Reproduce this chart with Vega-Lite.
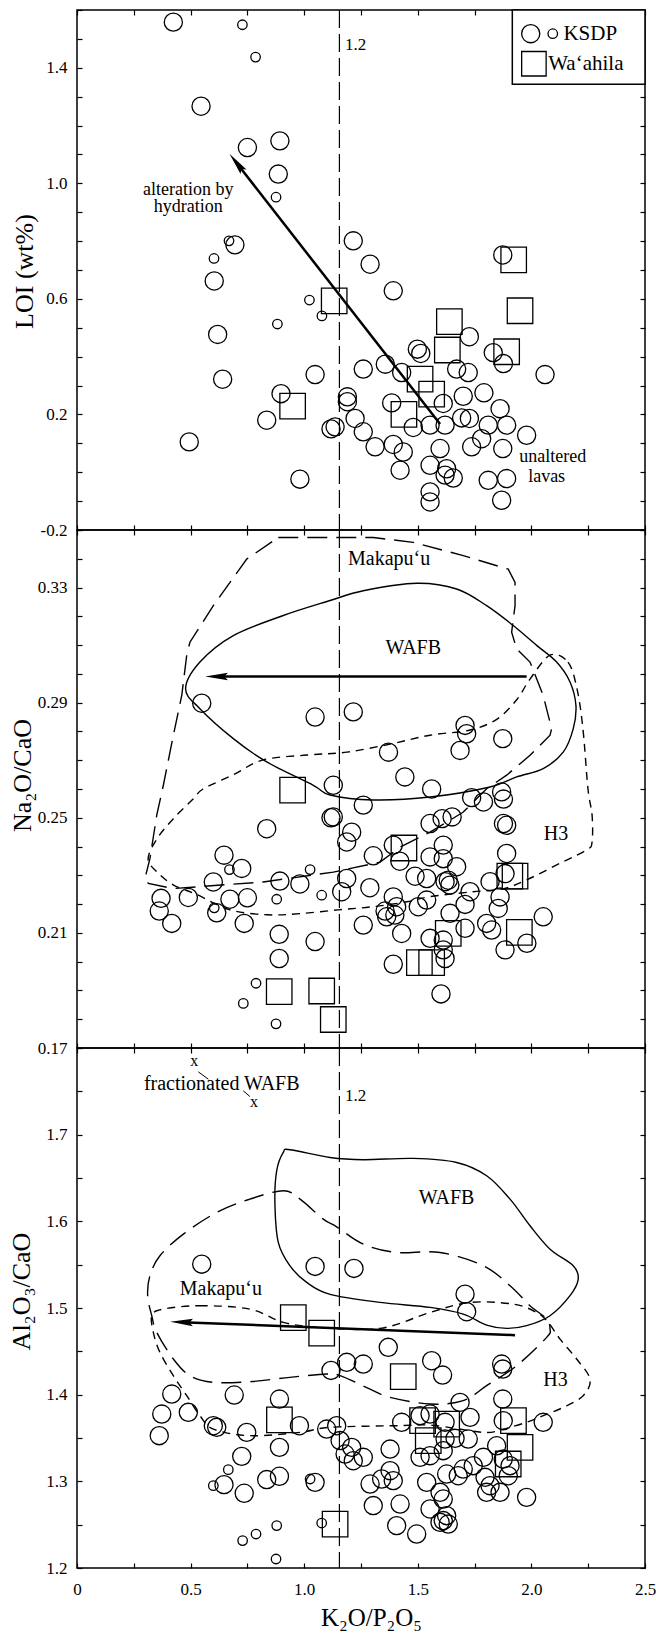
{
  "$schema": "https://vega.github.io/schema/vega-lite/v6.json",
  "padding": {"left": 7, "top": 0, "right": 5, "bottom": 5},
  "background": "white",
  "spacing": 0,
  "bounds": "flush",
  "config": {
    "view": {"stroke": "black", "strokeWidth": 1.5},
    "font": "Liberation Serif",
    "axis": {"labelFont": "Liberation Serif", "labelFontSize": 17, "labelColor": "black", "titleFont": "Liberation Serif", "titleFontSize": 26, "titleFontWeight": "normal", "titleColor": "black", "tickColor": "black", "tickWidth": 1.2, "tickSize": -5, "domain": false, "grid": false, "labelOverlap": false, "labelFlush": false},
    "text": {"font": "Liberation Serif", "color": "black", "baseline": "middle"}
  },
  "datasets": {
    "p1": [
      {"x":0.424,"y":1.558,"k":"b"},{"x":0.546,"y":1.267,"k":"b"},{"x":0.750,"y":1.124,"k":"b"},{"x":0.893,"y":1.147,"k":"b"},{"x":0.886,"y":1.032,"k":"b"},{"x":0.695,"y":0.787,"k":"b"},{"x":0.604,"y":0.662,"k":"b"},{"x":0.619,"y":0.477,"k":"b"},{"x":0.641,"y":0.322,"k":"b"},{"x":1.048,"y":0.338,"k":"b"},{"x":0.898,"y":0.272,"k":"b"},{"x":0.835,"y":0.180,"k":"b"},{"x":0.494,"y":0.105,"k":"b"},{"x":0.981,"y":-0.024,"k":"b"},{"x":1.118,"y":0.150,"k":"b"},{"x":1.290,"y":0.720,"k":"b"},{"x":1.874,"y":0.752,"k":"b"},{"x":1.216,"y":0.801,"k":"b"},{"x":1.392,"y":0.628,"k":"b"},{"x":1.727,"y":0.469,"k":"b"},{"x":1.498,"y":0.426,"k":"b"},{"x":1.513,"y":0.411,"k":"b"},{"x":1.832,"y":0.414,"k":"b"},{"x":1.877,"y":0.376,"k":"b"},{"x":1.357,"y":0.374,"k":"b"},{"x":1.260,"y":0.357,"k":"b"},{"x":1.429,"y":0.345,"k":"b"},{"x":1.671,"y":0.357,"k":"b"},{"x":1.722,"y":0.345,"k":"b"},{"x":2.060,"y":0.338,"k":"b"},{"x":1.190,"y":0.261,"k":"b"},{"x":1.190,"y":0.244,"k":"b"},{"x":1.385,"y":0.240,"k":"b"},{"x":1.700,"y":0.263,"k":"b"},{"x":1.791,"y":0.275,"k":"b"},{"x":1.612,"y":0.238,"k":"b"},{"x":1.862,"y":0.220,"k":"b"},{"x":1.224,"y":0.186,"k":"b"},{"x":1.136,"y":0.157,"k":"b"},{"x":1.260,"y":0.140,"k":"b"},{"x":1.480,"y":0.155,"k":"b"},{"x":1.554,"y":0.163,"k":"b"},{"x":1.620,"y":0.163,"k":"b"},{"x":1.693,"y":0.188,"k":"b"},{"x":1.727,"y":0.186,"k":"b"},{"x":1.810,"y":0.163,"k":"b"},{"x":1.891,"y":0.163,"k":"b"},{"x":1.979,"y":0.128,"k":"b"},{"x":1.312,"y":0.088,"k":"b"},{"x":1.392,"y":0.096,"k":"b"},{"x":1.436,"y":0.070,"k":"b"},{"x":1.598,"y":0.082,"k":"b"},{"x":1.737,"y":0.088,"k":"b"},{"x":1.781,"y":0.116,"k":"b"},{"x":1.874,"y":0.082,"k":"b"},{"x":1.422,"y":0.007,"k":"b"},{"x":1.554,"y":0.024,"k":"b"},{"x":1.627,"y":0.012,"k":"b"},{"x":1.656,"y":-0.020,"k":"b"},{"x":1.620,"y":-0.010,"k":"b"},{"x":1.810,"y":-0.028,"k":"b"},{"x":1.891,"y":-0.022,"k":"b"},{"x":1.554,"y":-0.068,"k":"b"},{"x":1.554,"y":-0.103,"k":"b"},{"x":1.869,"y":-0.097,"k":"b"},
      {"x":0.728,"y":1.549,"k":"s"},{"x":0.786,"y":1.437,"k":"s"},{"x":0.876,"y":0.952,"k":"s"},{"x":0.669,"y":0.801,"k":"s"},{"x":0.603,"y":0.740,"k":"s"},{"x":1.023,"y":0.596,"k":"s"},{"x":1.078,"y":0.541,"k":"s"},{"x":0.882,"y":0.513,"k":"s"},
      {"x":1.132,"y":0.593,"k":"q"},{"x":0.949,"y":0.229,"k":"q"},{"x":1.922,"y":0.735,"k":"q"},{"x":1.950,"y":0.559,"k":"q"},{"x":1.639,"y":0.521,"k":"q"},{"x":1.630,"y":0.423,"k":"q"},{"x":1.891,"y":0.417,"k":"q"},{"x":1.510,"y":0.322,"k":"q"},{"x":1.561,"y":0.270,"k":"q"},{"x":1.439,"y":0.200,"k":"q"}
    ],
    "leg": [{"x":1.997,"y":1.518,"k":"b"},{"x":2.094,"y":1.518,"k":"s"},{"x":2.011,"y":1.414,"k":"q"}],
    "legbox": [{"x":1.916,"x2":2.5,"y":1.343,"y2":1.6}],
    "vline": [{"x":1.155}],
    "a1": [{"x":1.598,"y":0.167},{"x":0.702,"y":1.071}],
    "h1": [{"x":0.702,"y":1.071}],
    "t1c": [{"t":"alteration by","x":0.49,"y":0.977},{"t":"hydration","x":0.49,"y":0.918},{"t":"unaltered","x":2.094,"y":0.052},{"t":"lavas","x":2.067,"y":-0.016}],
    "t1l": [{"t":"1.2","x":1.18,"y":1.478}],
    "t1g": [{"t":"KSDP","x":2.141,"y":1.518},{"t":"Wa‘ahila","x":2.074,"y":1.414}],
    "p2": [
      {"x":0.549,"y":0.2898,"k":"b"},{"x":1.048,"y":0.285,"k":"b"},{"x":0.835,"y":0.2462,"k":"b"},{"x":1.118,"y":0.250,"k":"b"},{"x":0.647,"y":0.237,"k":"b"},{"x":0.725,"y":0.2324,"k":"b"},{"x":0.600,"y":0.2277,"k":"b"},{"x":0.893,"y":0.228,"k":"b"},{"x":0.981,"y":0.227,"k":"b"},{"x":0.370,"y":0.222,"k":"b"},{"x":0.490,"y":0.2223,"k":"b"},{"x":0.673,"y":0.2217,"k":"b"},{"x":0.750,"y":0.2222,"k":"b"},{"x":0.615,"y":0.217,"k":"b"},{"x":0.362,"y":0.2176,"k":"b"},{"x":0.417,"y":0.2133,"k":"b"},{"x":0.736,"y":0.2133,"k":"b"},{"x":0.890,"y":0.2095,"k":"b"},{"x":1.048,"y":0.207,"k":"b"},{"x":0.890,"y":0.2011,"k":"b"},
      {"x":1.216,"y":0.2868,"k":"b"},{"x":1.708,"y":0.2821,"k":"b"},{"x":1.715,"y":0.2792,"k":"b"},{"x":1.686,"y":0.2734,"k":"b"},{"x":1.874,"y":0.2775,"k":"b"},{"x":1.371,"y":0.2728,"k":"b"},{"x":1.443,"y":0.2642,"k":"b"},{"x":1.561,"y":0.2600,"k":"b"},{"x":1.869,"y":0.2590,"k":"b"},{"x":1.877,"y":0.2565,"k":"b"},{"x":1.128,"y":0.2613,"k":"b"},{"x":1.260,"y":0.2544,"k":"b"},{"x":1.737,"y":0.257,"k":"b"},{"x":1.789,"y":0.2555,"k":"b"},{"x":1.128,"y":0.2503,"k":"b"},{"x":1.209,"y":0.245,"k":"b"},{"x":1.187,"y":0.2416,"k":"b"},{"x":1.554,"y":0.248,"k":"b"},{"x":1.607,"y":0.2497,"k":"b"},{"x":1.651,"y":0.2503,"k":"b"},{"x":1.877,"y":0.248,"k":"b"},{"x":1.891,"y":0.2474,"k":"b"},{"x":1.392,"y":0.2405,"k":"b"},{"x":1.612,"y":0.2405,"k":"b"},{"x":1.304,"y":0.2368,"k":"b"},{"x":1.421,"y":0.2349,"k":"b"},{"x":1.554,"y":0.2364,"k":"b"},{"x":1.612,"y":0.2358,"k":"b"},{"x":1.891,"y":0.2376,"k":"b"},{"x":1.671,"y":0.233,"k":"b"},{"x":1.488,"y":0.2297,"k":"b"},{"x":1.539,"y":0.2289,"k":"b"},{"x":1.620,"y":0.2278,"k":"b"},{"x":1.634,"y":0.2283,"k":"b"},{"x":1.641,"y":0.2266,"k":"b"},{"x":1.187,"y":0.2289,"k":"b"},{"x":1.818,"y":0.2278,"k":"b"},{"x":1.884,"y":0.2306,"k":"b"},{"x":1.165,"y":0.2243,"k":"b"},{"x":1.289,"y":0.2257,"k":"b"},{"x":1.392,"y":0.2225,"k":"b"},{"x":1.539,"y":0.2214,"k":"b"},{"x":1.502,"y":0.2191,"k":"b"},{"x":1.708,"y":0.2199,"k":"b"},{"x":1.730,"y":0.2243,"k":"b"},{"x":1.862,"y":0.2225,"k":"b"},{"x":1.854,"y":0.2185,"k":"b"},{"x":1.356,"y":0.2176,"k":"b"},{"x":1.407,"y":0.2191,"k":"b"},{"x":1.399,"y":0.2162,"k":"b"},{"x":1.363,"y":0.2156,"k":"b"},{"x":1.260,"y":0.2127,"k":"b"},{"x":1.642,"y":0.2168,"k":"b"},{"x":1.708,"y":0.2116,"k":"b"},{"x":1.803,"y":0.2133,"k":"b"},{"x":1.825,"y":0.211,"k":"b"},{"x":2.052,"y":0.2156,"k":"b"},{"x":1.429,"y":0.2098,"k":"b"},{"x":1.554,"y":0.2081,"k":"b"},{"x":1.612,"y":0.2075,"k":"b"},{"x":1.612,"y":0.2041,"k":"b"},{"x":1.980,"y":0.2064,"k":"b"},{"x":1.884,"y":0.2041,"k":"b"},{"x":1.392,"y":0.1991,"k":"b"},{"x":1.620,"y":0.2011,"k":"b"},{"x":1.602,"y":0.1888,"k":"b"},
      {"x":0.671,"y":0.232,"k":"s"},{"x":1.026,"y":0.232,"k":"s"},{"x":0.879,"y":0.2217,"k":"s"},{"x":1.077,"y":0.2231,"k":"s"},{"x":0.604,"y":0.2187,"k":"s"},{"x":0.788,"y":0.1925,"k":"s"},{"x":0.732,"y":0.1855,"k":"s"},{"x":0.876,"y":0.1784,"k":"s"},
      {"x":0.949,"y":0.2596,"k":"q"},{"x":0.890,"y":0.1896,"k":"q"},{"x":1.077,"y":0.1898,"k":"q"},{"x":1.128,"y":0.1799,"k":"q"},{"x":1.439,"y":0.2395,"k":"q"},{"x":1.905,"y":0.2297,"k":"q"},{"x":1.928,"y":0.2297,"k":"q"},{"x":1.634,"y":0.2098,"k":"q"},{"x":1.947,"y":0.2102,"k":"q"},{"x":1.507,"y":0.1997,"k":"q"},{"x":1.561,"y":0.1997,"k":"q"}
    ],
    "c2s": [
      {"o":1,"x":0.478,"y":0.2948},{"o":2,"x":0.541,"y":0.3041},{"o":3,"x":0.688,"y":0.3133},{"o":4,"x":0.908,"y":0.3203},{"o":5,"x":1.114,"y":0.3255},{"o":6,"x":1.260,"y":0.3289},{"o":7,"x":1.495,"y":0.3315},{"o":8,"x":1.671,"y":0.3295},{"o":9,"x":1.803,"y":0.3237},{"o":10,"x":1.920,"y":0.3168},{"o":11,"x":2.023,"y":0.3099},{"o":12,"x":2.111,"y":0.3041},{"o":13,"x":2.170,"y":0.2972},{"o":14,"x":2.196,"y":0.2890},{"o":15,"x":2.184,"y":0.2809},{"o":16,"x":2.140,"y":0.2728},{"o":17,"x":2.052,"y":0.2671},{"o":18,"x":1.935,"y":0.2642},{"o":19,"x":1.818,"y":0.2607},{"o":20,"x":1.554,"y":0.2572},{"o":21,"x":1.303,"y":0.2562},{"o":22,"x":1.114,"y":0.2579},{"o":23,"x":1.040,"y":0.2613},{"o":24,"x":0.835,"y":0.2694},{"o":25,"x":0.688,"y":0.2775},{"o":26,"x":0.541,"y":0.2879}
    ],
    "c2l": [
      {"o":1,"x":0.886,"y":0.3474},{"o":2,"x":1.114,"y":0.3474},{"o":3,"x":1.304,"y":0.3474},{"o":4,"x":1.480,"y":0.3457},{"o":5,"x":1.700,"y":0.3411},{"o":6,"x":1.898,"y":0.3364},{"o":7,"x":1.928,"y":0.3318},{"o":8,"x":1.928,"y":0.3237},{"o":9,"x":1.913,"y":0.3145},{"o":10,"x":1.935,"y":0.3087},{"o":11,"x":1.994,"y":0.3041},{"o":12,"x":2.052,"y":0.2925},{"o":13,"x":2.089,"y":0.2809},{"o":14,"x":2.082,"y":0.2787},{"o":15,"x":1.994,"y":0.2717},{"o":16,"x":1.891,"y":0.2648},{"o":17,"x":1.803,"y":0.2601},{"o":18,"x":1.699,"y":0.2519},{"o":19,"x":1.554,"y":0.2450},{"o":20,"x":1.422,"y":0.2398},{"o":21,"x":1.334,"y":0.2346},{"o":22,"x":1.128,"y":0.2311},{"o":23,"x":0.820,"y":0.2277},{"o":24,"x":0.424,"y":0.2254},{"o":25,"x":0.314,"y":0.2272},{"o":26,"x":0.299,"y":0.2289},{"o":27,"x":0.321,"y":0.2358},{"o":28,"x":0.351,"y":0.2509},{"o":29,"x":0.380,"y":0.2613},{"o":30,"x":0.424,"y":0.2786},{"o":31,"x":0.461,"y":0.2925},{"o":32,"x":0.483,"y":0.3065},{"o":33,"x":0.497,"y":0.3110},{"o":34,"x":0.600,"y":0.3237},{"o":35,"x":0.747,"y":0.3399},{"o":36,"x":0.886,"y":0.3474}
    ],
    "c2d": [
      {"o":1,"x":2.082,"y":0.3065},{"o":2,"x":2.161,"y":0.3041},{"o":3,"x":2.201,"y":0.2947},{"o":4,"x":2.227,"y":0.2808},{"o":5,"x":2.249,"y":0.2600},{"o":6,"x":2.267,"y":0.2510},{"o":7,"x":2.267,"y":0.2416},{"o":8,"x":2.245,"y":0.2389},{"o":9,"x":2.139,"y":0.2347},{"o":10,"x":1.981,"y":0.2285},{"o":11,"x":1.875,"y":0.2253},{"o":12,"x":1.743,"y":0.2243},{"o":13,"x":1.554,"y":0.2226},{"o":14,"x":1.452,"y":0.2208},{"o":15,"x":1.303,"y":0.2191},{"o":16,"x":1.149,"y":0.2180},{"o":17,"x":0.981,"y":0.2167},{"o":18,"x":0.836,"y":0.2163},{"o":19,"x":0.673,"y":0.2180},{"o":20,"x":0.528,"y":0.2233},{"o":21,"x":0.423,"y":0.2267},{"o":22,"x":0.352,"y":0.2312},{"o":23,"x":0.313,"y":0.2357},{"o":24,"x":0.352,"y":0.2427},{"o":25,"x":0.423,"y":0.2496},{"o":26,"x":0.511,"y":0.2565},{"o":27,"x":0.555,"y":0.2600},{"o":28,"x":0.687,"y":0.2649},{"o":29,"x":0.819,"y":0.2701},{"o":30,"x":1.012,"y":0.2718},{"o":31,"x":1.188,"y":0.2728},{"o":32,"x":1.378,"y":0.2756},{"o":33,"x":1.554,"y":0.2787},{"o":34,"x":1.730,"y":0.2805},{"o":35,"x":1.849,"y":0.2843},{"o":36,"x":1.937,"y":0.2912},{"o":37,"x":1.994,"y":0.2982}
    ],
    "a2": [{"x":1.979,"y":0.2991},{"x":0.614,"y":0.2991}],
    "h2": [{"x":0.614,"y":0.2991}],
    "t2c": [{"t":"WAFB","x":1.480,"y":0.309},{"t":"H3","x":2.108,"y":0.2445}],
    "t2l": [{"t":"Makapu‘u","x":1.193,"y":0.3398}],
    "p3": [
      {"x":0.549,"y":1.5506,"k":"b"},{"x":1.048,"y":1.548,"k":"b"},{"x":1.219,"y":1.5457,"k":"b"},{"x":1.708,"y":1.516,"k":"b"},{"x":1.715,"y":1.4957,"k":"b"},{"x":0.417,"y":1.4007,"k":"b"},{"x":0.373,"y":1.3776,"k":"b"},{"x":0.362,"y":1.3527,"k":"b"},{"x":0.490,"y":1.3796,"k":"b"},{"x":0.600,"y":1.3642,"k":"b"},{"x":0.615,"y":1.3623,"k":"b"},{"x":0.747,"y":1.3565,"k":"b"},{"x":0.692,"y":1.3996,"k":"b"},{"x":0.891,"y":1.3949,"k":"b"},{"x":0.979,"y":1.3642,"k":"b"},{"x":1.099,"y":1.3603,"k":"b"},{"x":0.891,"y":1.3392,"k":"b"},{"x":0.725,"y":1.3288,"k":"b"},{"x":0.647,"y":1.2962,"k":"b"},{"x":0.736,"y":1.2862,"k":"b"},{"x":0.835,"y":1.302,"k":"b"},{"x":0.891,"y":1.3058,"k":"b"},{"x":1.048,"y":1.2988,"k":"b"},{"x":1.118,"y":1.428,"k":"b"},
      {"x":1.370,"y":1.4546,"k":"b"},{"x":1.187,"y":1.4373,"k":"b"},{"x":1.260,"y":1.4353,"k":"b"},{"x":1.561,"y":1.4392,"k":"b"},{"x":1.609,"y":1.4226,"k":"b"},{"x":1.869,"y":1.4353,"k":"b"},{"x":1.874,"y":1.4295,"k":"b"},{"x":1.686,"y":1.3911,"k":"b"},{"x":1.874,"y":1.3949,"k":"b"},{"x":1.429,"y":1.3681,"k":"b"},{"x":1.510,"y":1.3758,"k":"b"},{"x":1.554,"y":1.3777,"k":"b"},{"x":1.620,"y":1.3681,"k":"b"},{"x":1.876,"y":1.37,"k":"b"},{"x":2.052,"y":1.3681,"k":"b"},{"x":1.730,"y":1.3738,"k":"b"},{"x":1.158,"y":1.347,"k":"b"},{"x":1.209,"y":1.3392,"k":"b"},{"x":1.143,"y":1.3642,"k":"b"},{"x":1.180,"y":1.3315,"k":"b"},{"x":1.216,"y":1.3238,"k":"b"},{"x":1.260,"y":1.3277,"k":"b"},{"x":1.378,"y":1.3372,"k":"b"},{"x":1.620,"y":1.3488,"k":"b"},{"x":1.664,"y":1.3496,"k":"b"},{"x":1.722,"y":1.3488,"k":"b"},{"x":1.510,"y":1.3277,"k":"b"},{"x":1.554,"y":1.3296,"k":"b"},{"x":1.612,"y":1.3354,"k":"b"},{"x":1.789,"y":1.3277,"k":"b"},{"x":1.847,"y":1.341,"k":"b"},{"x":1.876,"y":1.3257,"k":"b"},{"x":1.906,"y":1.3181,"k":"b"},{"x":1.378,"y":1.3123,"k":"b"},{"x":1.341,"y":1.3027,"k":"b"},{"x":1.392,"y":1.3008,"k":"b"},{"x":1.290,"y":1.2969,"k":"b"},{"x":1.539,"y":1.2988,"k":"b"},{"x":1.627,"y":1.3084,"k":"b"},{"x":1.678,"y":1.3065,"k":"b"},{"x":1.700,"y":1.3142,"k":"b"},{"x":1.744,"y":1.3181,"k":"b"},{"x":1.796,"y":1.3046,"k":"b"},{"x":1.818,"y":1.295,"k":"b"},{"x":1.862,"y":1.2873,"k":"b"},{"x":1.803,"y":1.2873,"k":"b"},{"x":1.898,"y":1.3065,"k":"b"},{"x":1.979,"y":1.2815,"k":"b"},{"x":1.422,"y":1.2738,"k":"b"},{"x":1.304,"y":1.272,"k":"b"},{"x":1.598,"y":1.2873,"k":"b"},{"x":1.612,"y":1.2796,"k":"b"},{"x":1.554,"y":1.2681,"k":"b"},{"x":1.627,"y":1.2604,"k":"b"},{"x":1.612,"y":1.2547,"k":"b"},{"x":1.634,"y":1.2507,"k":"b"},{"x":1.407,"y":1.2489,"k":"b"},{"x":1.495,"y":1.2392,"k":"b"},{"x":1.598,"y":1.2527,"k":"b"},
      {"x":0.666,"y":1.3135,"k":"s"},{"x":0.600,"y":1.295,"k":"s"},{"x":1.026,"y":1.3027,"k":"s"},{"x":0.879,"y":1.2489,"k":"s"},{"x":0.788,"y":1.2392,"k":"s"},{"x":0.729,"y":1.2316,"k":"s"},{"x":0.876,"y":1.2104,"k":"s"},{"x":1.077,"y":1.2519,"k":"s"},
      {"x":0.952,"y":1.489,"k":"q"},{"x":1.077,"y":1.471,"k":"q"},{"x":0.891,"y":1.371,"k":"q"},{"x":1.136,"y":1.2507,"k":"q"},{"x":1.436,"y":1.4208,"k":"q"},{"x":1.521,"y":1.37,"k":"q"},{"x":1.627,"y":1.3661,"k":"q"},{"x":1.921,"y":1.37,"k":"q"},{"x":1.950,"y":1.3392,"k":"q"},{"x":1.546,"y":1.347,"k":"q"},{"x":1.898,"y":1.32,"k":"q"}
    ],
    "c3s": [
      {"o":1,"x":0.908,"y":1.6795},{"o":2,"x":0.937,"y":1.6826},{"o":3,"x":1.114,"y":1.6737},{"o":4,"x":1.260,"y":1.6711},{"o":5,"x":1.480,"y":1.6726},{"o":6,"x":1.671,"y":1.6679},{"o":7,"x":1.803,"y":1.6526},{"o":8,"x":1.906,"y":1.6256},{"o":9,"x":1.994,"y":1.5949},{"o":10,"x":2.082,"y":1.5679},{"o":11,"x":2.184,"y":1.5488},{"o":12,"x":2.206,"y":1.5333},{"o":13,"x":2.170,"y":1.5142},{"o":14,"x":2.082,"y":1.4911},{"o":15,"x":1.979,"y":1.4796},{"o":16,"x":1.891,"y":1.4765},{"o":17,"x":1.803,"y":1.4803},{"o":18,"x":1.700,"y":1.4930},{"o":19,"x":1.554,"y":1.5007},{"o":20,"x":1.334,"y":1.5065},{"o":21,"x":1.114,"y":1.5157},{"o":22,"x":1.011,"y":1.5295},{"o":23,"x":0.937,"y":1.5488},{"o":24,"x":0.886,"y":1.5757},{"o":25,"x":0.871,"y":1.6218},{"o":26,"x":0.879,"y":1.6584}
    ],
    "c3l": [
      {"o":1,"x":0.908,"y":1.6353},{"o":2,"x":0.982,"y":1.6256},{"o":3,"x":1.084,"y":1.6025},{"o":4,"x":1.143,"y":1.5937},{"o":5,"x":1.260,"y":1.5737},{"o":6,"x":1.407,"y":1.5641},{"o":7,"x":1.598,"y":1.5641},{"o":8,"x":1.788,"y":1.5488},{"o":9,"x":1.906,"y":1.5257},{"o":10,"x":1.994,"y":1.5027},{"o":11,"x":2.067,"y":1.4872},{"o":12,"x":2.082,"y":1.4757},{"o":13,"x":2.067,"y":1.4661},{"o":14,"x":1.935,"y":1.4334},{"o":15,"x":1.803,"y":1.4104},{"o":16,"x":1.700,"y":1.3931},{"o":17,"x":1.554,"y":1.3892},{"o":18,"x":1.378,"y":1.3969},{"o":19,"x":1.290,"y":1.4065},{"o":20,"x":1.158,"y":1.4219},{"o":21,"x":1.099,"y":1.4238},{"o":22,"x":0.937,"y":1.4200},{"o":23,"x":0.761,"y":1.4150},{"o":24,"x":0.600,"y":1.4142},{"o":25,"x":0.497,"y":1.4219},{"o":26,"x":0.424,"y":1.4411},{"o":27,"x":0.351,"y":1.4719},{"o":28,"x":0.329,"y":1.4911},{"o":29,"x":0.311,"y":1.5142},{"o":30,"x":0.321,"y":1.5373},{"o":31,"x":0.365,"y":1.5603},{"o":32,"x":0.468,"y":1.5852},{"o":33,"x":0.615,"y":1.6103},{"o":34,"x":0.761,"y":1.6256}
    ],
    "c3d": [
      {"o":1,"x":0.380,"y":1.4987},{"o":2,"x":0.541,"y":1.5027},{"o":3,"x":0.761,"y":1.4987},{"o":4,"x":0.908,"y":1.4834},{"o":5,"x":1.070,"y":1.4776},{"o":6,"x":1.334,"y":1.4765},{"o":7,"x":1.554,"y":1.4949},{"o":8,"x":1.730,"y":1.5064},{"o":9,"x":1.920,"y":1.5045},{"o":10,"x":2.023,"y":1.4949},{"o":11,"x":2.074,"y":1.4834},{"o":12,"x":2.126,"y":1.4641},{"o":13,"x":2.199,"y":1.4411},{"o":14,"x":2.258,"y":1.4180},{"o":15,"x":2.228,"y":1.3988},{"o":16,"x":2.140,"y":1.3853},{"o":17,"x":2.052,"y":1.3758},{"o":18,"x":1.979,"y":1.3681},{"o":19,"x":1.876,"y":1.3603},{"o":20,"x":1.788,"y":1.3565},{"o":21,"x":1.567,"y":1.3646},{"o":22,"x":1.407,"y":1.3642},{"o":23,"x":1.114,"y":1.3623},{"o":24,"x":0.981,"y":1.3565},{"o":25,"x":0.761,"y":1.3527},{"o":26,"x":0.600,"y":1.3603},{"o":27,"x":0.541,"y":1.3758},{"o":28,"x":0.483,"y":1.3988},{"o":29,"x":0.424,"y":1.4219},{"o":30,"x":0.365,"y":1.4488},{"o":31,"x":0.336,"y":1.4719},{"o":32,"x":0.330,"y":1.4915}
    ],
    "a3": [{"x":1.928,"y":1.4687},{"x":0.460,"y":1.4837}],
    "h3": [{"x":0.460,"y":1.4837}],
    "con3": [{"g":1,"x":0.534,"y":1.7725},{"g":1,"x":0.578,"y":1.764},{"g":2,"x":0.732,"y":1.7506},{"g":2,"x":0.761,"y":1.744}],
    "t3c": [{"t":"WAFB","x":1.627,"y":1.6264},{"t":"Makapu‘u","x":0.633,"y":1.5218},{"t":"H3","x":2.106,"y":1.417},{"t":"fractionated WAFB","x":0.637,"y":1.759}],
    "t3x": [{"t":"x","x":0.516,"y":1.785},{"t":"x","x":0.779,"y":1.738}],
    "t3l": [{"t":"1.2","x":1.18,"y":1.745}]
  },
  "vconcat": [
    {
      "width": 568, "height": 520,
      "resolve": {"axis": {"x": "independent", "y": "independent"}},
      "layer": [
        {"data": {"name": "vline"}, "mark": {"type": "rule", "color": "black", "strokeWidth": 1.2, "strokeDash": [18, 6]},
         "encoding": {"x": {"field": "x", "type": "quantitative", "axis": null, "scale": {"domain": [0, 2.5], "nice": false, "zero": false}}}},
        {"data": {"name": "p1"}, "transform": [{"filter": "datum.k=='b'"}],
         "mark": {"type": "point", "shape": "circle", "size": 330, "filled": false, "color": "black", "strokeWidth": 1.3, "opacity": 1},
         "encoding": {
           "x": {"field": "x", "type": "quantitative", "scale": {"domain": [0, 2.5], "nice": false, "zero": false},
                 "axis": {"orient": "bottom", "values": [0,0.25,0.5,0.75,1,1.25,1.5,1.75,2,2.25,2.5], "labels": false, "title": null}},
           "y": {"field": "y", "type": "quantitative", "scale": {"domain": [-0.2, 1.6], "nice": false, "zero": false},
                 "axis": {"orient": "left", "values": [-0.2,-0.1,0,0.1,0.2,0.3,0.4,0.5,0.6,0.7,0.8,0.9,1.0,1.1,1.2,1.3,1.4,1.5,1.6], "labelPadding": 15, "labelFont": "Liberation Serif", "labelFontSize": 17,
                          "labelExpr": "abs((datum.value+0.2)/0.4-round((datum.value+0.2)/0.4))<0.01 ? (datum.value<0 ? '-'+format(-datum.value,'.1f') : format(datum.value,'.1f')) : ''",
                          "title": "LOI (wt%)", "titleFont": "Liberation Serif", "titleX": -53, "titleY": 261, "titleAngle": -90, "titleAlign": "center", "titleBaseline": "middle"}}
         }},
        {"data": {"name": "p1"}, "transform": [{"filter": "datum.k=='s'"}],
         "mark": {"type": "point", "shape": "circle", "size": 90, "filled": false, "color": "black", "strokeWidth": 1.3, "opacity": 1},
         "encoding": {"x": {"field": "x", "type": "quantitative", "axis": null}, "y": {"field": "y", "type": "quantitative", "axis": null}}},
        {"data": {"name": "p1"}, "transform": [{"filter": "datum.k=='q'"}],
         "mark": {"type": "point", "shape": "square", "size": 650, "filled": false, "color": "black", "strokeWidth": 1.3, "opacity": 1},
         "encoding": {"x": {"field": "x", "type": "quantitative", "axis": null}, "y": {"field": "y", "type": "quantitative", "axis": null}}},
        {"data": {"name": "a1"}, "mark": {"type": "line", "color": "black", "strokeWidth": 2.5},
         "encoding": {
           "x": {"field": "x", "type": "quantitative", "axis": {"orient": "top", "values": [0,0.25,0.5,0.75,1,1.25,1.5,1.75,2,2.25,2.5], "labels": false, "title": null}},
           "y": {"field": "y", "type": "quantitative", "axis": {"orient": "right", "values": [-0.2,-0.1,0,0.1,0.2,0.3,0.4,0.5,0.6,0.7,0.8,0.9,1.0,1.1,1.2,1.3,1.4,1.5,1.6], "labels": false, "title": null}}}},
        {"data": {"name": "h1"}, "mark": {"type": "point", "shape": "M0,-1L-0.33,1L0,0.7L0.33,1Z", "size": 520, "filled": true, "color": "black", "opacity": 1, "angle": 322, "strokeWidth": 0},
         "encoding": {"x": {"field": "x", "type": "quantitative", "axis": null}, "y": {"field": "y", "type": "quantitative", "axis": null}}},
        {"data": {"name": "legbox"}, "mark": {"type": "rect", "fill": "white", "stroke": "black", "strokeWidth": 1.5},
         "encoding": {"x": {"field": "x", "type": "quantitative", "axis": null}, "x2": {"field": "x2"}, "y": {"field": "y", "type": "quantitative", "axis": null}, "y2": {"field": "y2"}}},
        {"data": {"name": "leg"}, "transform": [{"filter": "datum.k=='b'"}],
         "mark": {"type": "point", "shape": "circle", "size": 330, "filled": false, "color": "black", "strokeWidth": 1.3, "opacity": 1},
         "encoding": {"x": {"field": "x", "type": "quantitative", "axis": null}, "y": {"field": "y", "type": "quantitative", "axis": null}}},
        {"data": {"name": "leg"}, "transform": [{"filter": "datum.k=='s'"}],
         "mark": {"type": "point", "shape": "circle", "size": 90, "filled": false, "color": "black", "strokeWidth": 1.3, "opacity": 1},
         "encoding": {"x": {"field": "x", "type": "quantitative", "axis": null}, "y": {"field": "y", "type": "quantitative", "axis": null}}},
        {"data": {"name": "leg"}, "transform": [{"filter": "datum.k=='q'"}],
         "mark": {"type": "point", "shape": "square", "size": 600, "filled": false, "color": "black", "strokeWidth": 1.3, "opacity": 1},
         "encoding": {"x": {"field": "x", "type": "quantitative", "axis": null}, "y": {"field": "y", "type": "quantitative", "axis": null}}},
        {"data": {"name": "t1c"}, "mark": {"type": "text", "align": "center", "fontSize": 18},
         "encoding": {"x": {"field": "x", "type": "quantitative", "axis": null}, "y": {"field": "y", "type": "quantitative", "axis": null}, "text": {"field": "t"}}},
        {"data": {"name": "t1l"}, "mark": {"type": "text", "align": "left", "fontSize": 17},
         "encoding": {"x": {"field": "x", "type": "quantitative", "axis": null}, "y": {"field": "y", "type": "quantitative", "axis": null}, "text": {"field": "t"}}},
        {"data": {"name": "t1g"}, "mark": {"type": "text", "align": "left", "fontSize": 21},
         "encoding": {"x": {"field": "x", "type": "quantitative", "axis": null}, "y": {"field": "y", "type": "quantitative", "axis": null}, "text": {"field": "t"}}}
      ]
    },
    {
      "width": 568, "height": 518,
      "resolve": {"axis": {"x": "independent", "y": "independent"}},
      "layer": [
        {"data": {"name": "vline"}, "mark": {"type": "rule", "color": "black", "strokeWidth": 1.2, "strokeDash": [18, 6]},
         "encoding": {"x": {"field": "x", "type": "quantitative", "axis": null, "scale": {"domain": [0, 2.5], "nice": false, "zero": false}}}},
        {"data": {"name": "p2"}, "transform": [{"filter": "datum.k=='b'"}],
         "mark": {"type": "point", "shape": "circle", "size": 330, "filled": false, "color": "black", "strokeWidth": 1.3, "opacity": 1},
         "encoding": {
           "x": {"field": "x", "type": "quantitative", "scale": {"domain": [0, 2.5], "nice": false, "zero": false},
                 "axis": {"orient": "bottom", "values": [0,0.25,0.5,0.75,1,1.25,1.5,1.75,2,2.25,2.5], "labels": false, "title": null}},
           "y": {"field": "y", "type": "quantitative", "scale": {"domain": [0.17, 0.35], "nice": false, "zero": false},
                 "axis": {"orient": "left", "values": [0.17,0.18,0.19,0.2,0.21,0.22,0.23,0.24,0.25,0.26,0.27,0.28,0.29,0.3,0.31,0.32,0.33,0.34,0.35], "labelPadding": 15, "labelFont": "Liberation Serif", "labelFontSize": 17,
                          "labelExpr": "abs((datum.value-0.17)/0.04-round((datum.value-0.17)/0.04))<0.01 && datum.value<0.34 ? format(datum.value,'.2f') : ''",
                          "title": "Na₂O/CaO", "titleFont": "Liberation Serif", "titleX": -55, "titleY": 245, "titleAngle": -90, "titleAlign": "center", "titleBaseline": "middle"}}
         }},
        {"data": {"name": "p2"}, "transform": [{"filter": "datum.k=='s'"}],
         "mark": {"type": "point", "shape": "circle", "size": 90, "filled": false, "color": "black", "strokeWidth": 1.3, "opacity": 1},
         "encoding": {"x": {"field": "x", "type": "quantitative", "axis": null}, "y": {"field": "y", "type": "quantitative", "axis": null}}},
        {"data": {"name": "p2"}, "transform": [{"filter": "datum.k=='q'"}],
         "mark": {"type": "point", "shape": "square", "size": 650, "filled": false, "color": "black", "strokeWidth": 1.3, "opacity": 1},
         "encoding": {"x": {"field": "x", "type": "quantitative", "axis": null}, "y": {"field": "y", "type": "quantitative", "axis": null}}},
        {"data": {"name": "c2s"}, "mark": {"type": "line", "color": "black", "strokeWidth": 1.4, "interpolate": "cardinal-closed"},
         "encoding": {
           "x": {"field": "x", "type": "quantitative", "axis": {"orient": "top", "values": [0,0.25,0.5,0.75,1,1.25,1.5,1.75,2,2.25,2.5], "labels": false, "title": null}},
           "y": {"field": "y", "type": "quantitative", "axis": {"orient": "right", "values": [0.17,0.18,0.19,0.2,0.21,0.22,0.23,0.24,0.25,0.26,0.27,0.28,0.29,0.3,0.31,0.32,0.33,0.34,0.35], "labels": false, "title": null}},
           "order": {"field": "o", "type": "quantitative"}}},
        {"data": {"name": "c2l"}, "mark": {"type": "line", "color": "black", "strokeWidth": 1.4, "strokeDash": [20, 9], "interpolate": "linear"},
         "encoding": {"x": {"field": "x", "type": "quantitative", "axis": null}, "y": {"field": "y", "type": "quantitative", "axis": null}, "order": {"field": "o", "type": "quantitative"}}},
        {"data": {"name": "c2d"}, "mark": {"type": "line", "color": "black", "strokeWidth": 1.4, "strokeDash": [8, 6], "interpolate": "cardinal-closed"},
         "encoding": {"x": {"field": "x", "type": "quantitative", "axis": null}, "y": {"field": "y", "type": "quantitative", "axis": null}, "order": {"field": "o", "type": "quantitative"}}},
        {"data": {"name": "a2"}, "mark": {"type": "line", "color": "black", "strokeWidth": 2.5},
         "encoding": {"x": {"field": "x", "type": "quantitative", "axis": null}, "y": {"field": "y", "type": "quantitative", "axis": null}}},
        {"data": {"name": "h2"}, "mark": {"type": "point", "shape": "M0,-1L-0.33,1L0,0.7L0.33,1Z", "size": 520, "filled": true, "color": "black", "opacity": 1, "angle": 270, "strokeWidth": 0},
         "encoding": {"x": {"field": "x", "type": "quantitative", "axis": null}, "y": {"field": "y", "type": "quantitative", "axis": null}}},
        {"data": {"name": "t2c"}, "mark": {"type": "text", "align": "center", "fontSize": 20},
         "encoding": {"x": {"field": "x", "type": "quantitative", "axis": null}, "y": {"field": "y", "type": "quantitative", "axis": null}, "text": {"field": "t"}}},
        {"data": {"name": "t2l"}, "mark": {"type": "text", "align": "left", "fontSize": 20},
         "encoding": {"x": {"field": "x", "type": "quantitative", "axis": null}, "y": {"field": "y", "type": "quantitative", "axis": null}, "text": {"field": "t"}}}
      ]
    },
    {
      "width": 568, "height": 520,
      "resolve": {"axis": {"x": "independent", "y": "independent"}},
      "layer": [
        {"data": {"name": "vline"}, "mark": {"type": "rule", "color": "black", "strokeWidth": 1.2, "strokeDash": [18, 6]},
         "encoding": {"x": {"field": "x", "type": "quantitative", "axis": null, "scale": {"domain": [0, 2.5], "nice": false, "zero": false}}}},
        {"data": {"name": "p3"}, "transform": [{"filter": "datum.k=='b'"}],
         "mark": {"type": "point", "shape": "circle", "size": 330, "filled": false, "color": "black", "strokeWidth": 1.3, "opacity": 1},
         "encoding": {
           "x": {"field": "x", "type": "quantitative", "scale": {"domain": [0, 2.5], "nice": false, "zero": false},
                 "axis": {"orient": "bottom", "values": [0,0.25,0.5,0.75,1,1.25,1.5,1.75,2,2.25,2.5], "labelPadding": 18, "labelFont": "Liberation Serif", "labelFontSize": 17,
                          "labelExpr": "abs(datum.value*2-round(datum.value*2))<0.01 ? (datum.value==0 ? '0' : format(datum.value,'.1f')) : ''",
                          "title": "K₂O/P₂O₅", "titleFont": "Liberation Serif", "titleX": 294, "titleY": 57, "titleAlign": "center", "titleBaseline": "alphabetic", "titleFontSize": 25}},
           "y": {"field": "y", "type": "quantitative", "scale": {"domain": [1.2, 1.8], "nice": false, "zero": false},
                 "axis": {"orient": "left", "values": [1.2,1.25,1.3,1.35,1.4,1.45,1.5,1.55,1.6,1.65,1.7,1.75,1.8], "labelPadding": 15, "labelFont": "Liberation Serif", "labelFontSize": 17,
                          "labelExpr": "abs((datum.value-1.2)/0.1-round((datum.value-1.2)/0.1))<0.01 && datum.value<1.75 ? format(datum.value,'.1f') : ''",
                          "title": "Al₂O₃/CaO", "titleFont": "Liberation Serif", "titleX": -56, "titleY": 243, "titleAngle": -90, "titleAlign": "center", "titleBaseline": "middle"}}
         }},
        {"data": {"name": "p3"}, "transform": [{"filter": "datum.k=='s'"}],
         "mark": {"type": "point", "shape": "circle", "size": 90, "filled": false, "color": "black", "strokeWidth": 1.3, "opacity": 1},
         "encoding": {"x": {"field": "x", "type": "quantitative", "axis": null}, "y": {"field": "y", "type": "quantitative", "axis": null}}},
        {"data": {"name": "p3"}, "transform": [{"filter": "datum.k=='q'"}],
         "mark": {"type": "point", "shape": "square", "size": 650, "filled": false, "color": "black", "strokeWidth": 1.3, "opacity": 1},
         "encoding": {"x": {"field": "x", "type": "quantitative", "axis": null}, "y": {"field": "y", "type": "quantitative", "axis": null}}},
        {"data": {"name": "c3s"}, "mark": {"type": "line", "color": "black", "strokeWidth": 1.4, "interpolate": "cardinal-closed"},
         "encoding": {
           "x": {"field": "x", "type": "quantitative", "axis": {"orient": "top", "values": [0,0.25,0.5,0.75,1,1.25,1.5,1.75,2,2.25,2.5], "labels": false, "title": null}},
           "y": {"field": "y", "type": "quantitative", "axis": {"orient": "right", "values": [1.2,1.25,1.3,1.35,1.4,1.45,1.5,1.55,1.6,1.65,1.7,1.75,1.8], "labels": false, "title": null}},
           "order": {"field": "o", "type": "quantitative"}}},
        {"data": {"name": "c3l"}, "mark": {"type": "line", "color": "black", "strokeWidth": 1.4, "strokeDash": [20, 9], "interpolate": "cardinal-closed"},
         "encoding": {"x": {"field": "x", "type": "quantitative", "axis": null}, "y": {"field": "y", "type": "quantitative", "axis": null}, "order": {"field": "o", "type": "quantitative"}}},
        {"data": {"name": "c3d"}, "mark": {"type": "line", "color": "black", "strokeWidth": 1.4, "strokeDash": [8, 6], "interpolate": "cardinal-closed"},
         "encoding": {"x": {"field": "x", "type": "quantitative", "axis": null}, "y": {"field": "y", "type": "quantitative", "axis": null}, "order": {"field": "o", "type": "quantitative"}}},
        {"data": {"name": "a3"}, "mark": {"type": "line", "color": "black", "strokeWidth": 2.5},
         "encoding": {"x": {"field": "x", "type": "quantitative", "axis": null}, "y": {"field": "y", "type": "quantitative", "axis": null}}},
        {"data": {"name": "h3"}, "mark": {"type": "point", "shape": "M0,-1L-0.33,1L0,0.7L0.33,1Z", "size": 520, "filled": true, "color": "black", "opacity": 1, "angle": 272, "strokeWidth": 0},
         "encoding": {"x": {"field": "x", "type": "quantitative", "axis": null}, "y": {"field": "y", "type": "quantitative", "axis": null}}},
        {"data": {"name": "con3"}, "mark": {"type": "line", "color": "black", "strokeWidth": 1},
         "encoding": {"x": {"field": "x", "type": "quantitative", "axis": null}, "y": {"field": "y", "type": "quantitative", "axis": null}, "detail": {"field": "g"}}},
        {"data": {"name": "t3c"}, "mark": {"type": "text", "align": "center", "fontSize": 20},
         "encoding": {"x": {"field": "x", "type": "quantitative", "axis": null}, "y": {"field": "y", "type": "quantitative", "axis": null}, "text": {"field": "t"}}},
        {"data": {"name": "t3x"}, "mark": {"type": "text", "align": "center", "fontSize": 16},
         "encoding": {"x": {"field": "x", "type": "quantitative", "axis": null}, "y": {"field": "y", "type": "quantitative", "axis": null}, "text": {"field": "t"}}},
        {"data": {"name": "t3l"}, "mark": {"type": "text", "align": "left", "fontSize": 17},
         "encoding": {"x": {"field": "x", "type": "quantitative", "axis": null}, "y": {"field": "y", "type": "quantitative", "axis": null}, "text": {"field": "t"}}}
      ]
    }
  ]
}
